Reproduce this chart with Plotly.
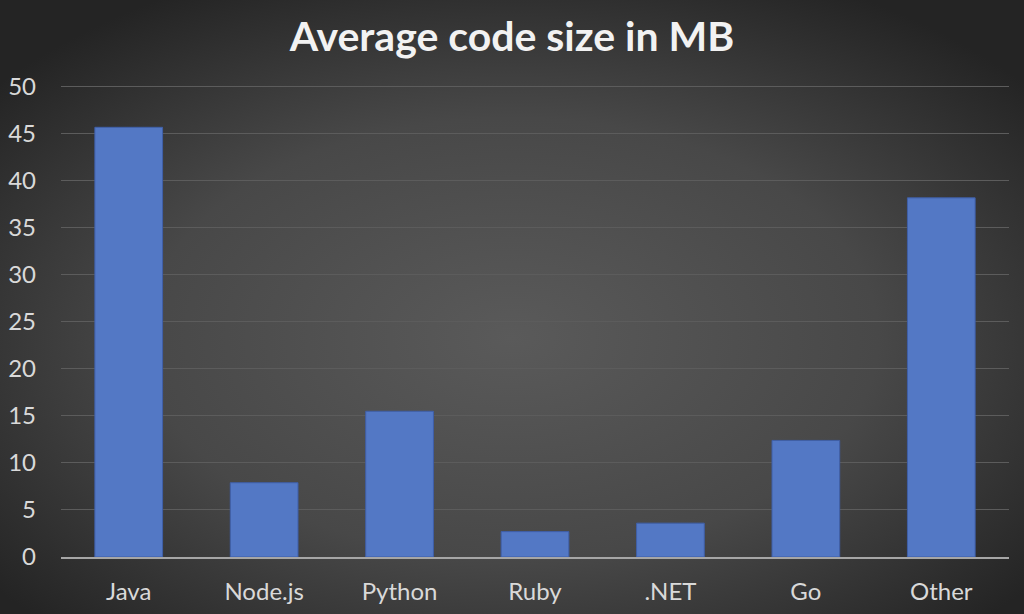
import base64
import plotly.graph_objects as go

categories = ["Java", "Node.js", "Python", "Ruby", ".NET", "Go", "Other"]
avg_size_mb = [45.7, 7.9, 15.5, 2.7, 3.6, 12.4, 38.2]
y_ticks = [0, 5, 10, 15, 20, 25, 30, 35, 40, 45, 50]

W, H = 1024, 614
L, R, T, B = 61, 15, 85, 57
pw, ph = W - L - R, H - T - B

svg = f'''<svg xmlns="http://www.w3.org/2000/svg" width="{W}" height="{H}" viewBox="0 0 {W} {H}" preserveAspectRatio="none">
<defs><radialGradient id="g" cx="0.5" cy="0.55" r="0.65" gradientUnits="objectBoundingBox">
<stop offset="0" stop-color="#5a5a5a"/><stop offset="0.55" stop-color="#484848"/><stop offset="1" stop-color="#242424"/>
</radialGradient></defs><rect width="{W}" height="{H}" fill="url(#g)"/></svg>'''
bg_uri = "data:image/svg+xml;base64," + base64.b64encode(svg.encode()).decode()

fig = go.Figure(go.Bar(
    x=categories, y=avg_size_mb,
    marker=dict(color="#5378c5", line=dict(color="#3f5fa8", width=1)),
    width=0.5,
))

fig.update_layout(
    width=W, height=H,
    margin=dict(l=L, r=R, t=T, b=B, autoexpand=False),
    paper_bgcolor="#3c3c3c",
    plot_bgcolor="rgba(0,0,0,0)",
    showlegend=False,
    title=dict(text="<b>Average code size in MB</b>", x=0.5, xanchor="center",
               y=1 - 37 / H, yanchor="middle",
               font=dict(family="Lato, Open Sans, sans-serif", size=41, color="#f2f2f2")),
    font=dict(family="Lato, Open Sans, sans-serif", color="#d9d9d9"),
    images=[dict(source=bg_uri, xref="paper", yref="paper",
                 x=-L / pw, y=1 + T / ph, sizex=W / pw, sizey=H / ph,
                 xanchor="left", yanchor="top", sizing="stretch", layer="below")],
    bargap=0.5,
)
fig.update_yaxes(range=[0, 50.2], tickvals=y_ticks, showgrid=True, gridcolor="#5c5c5c",
                 gridwidth=1, zeroline=False, showline=False, automargin=False,
                 tickfont=dict(size=24, color="#d9d9d9"), ticks="", ticklabelstandoff=24)
fig.update_xaxes(showline=True, linecolor="#a6a6a6", linewidth=2, showgrid=False, automargin=False,
                 tickfont=dict(size=24, color="#d9d9d9"), ticks="", ticklabelstandoff=12)

fig.write_html("out.html")
